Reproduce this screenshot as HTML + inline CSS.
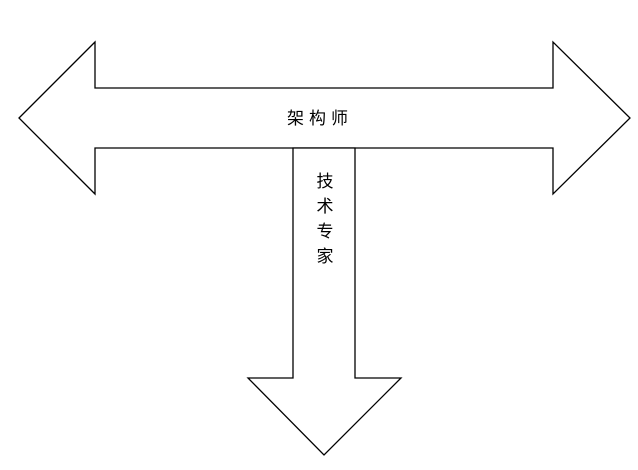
<!DOCTYPE html>
<html><head><meta charset="utf-8"><style>body{margin:0;background:#fff}</style></head>
<body>
<svg width="638" height="465" xmlns="http://www.w3.org/2000/svg">
<rect width="638" height="465" fill="#fff"/>
<path d="M19,118 L95,42 L95,88 L553,88 L553,42 L630,118 L553,194 L553,148 L95,148 L95,194 Z" fill="#fff" stroke="#000" stroke-width="1.3"/>
<path d="M293,148 L355,148 L355,378 L401,378 L324,455 L248,378 L293,378 Z" fill="#fff" stroke="#000" stroke-width="1.3"/>
<g font-family="Liberation Sans, Noto Sans CJK SC, sans-serif" font-size="17" fill="#000" text-anchor="middle">
<text x="320" y="124" letter-spacing="5">架构师</text>
<text x="325" y="187">技</text>
<text x="325" y="212">术</text>
<text x="325" y="237">专</text>
<text x="325" y="262">家</text>
</g>
</svg>
</body></html>
